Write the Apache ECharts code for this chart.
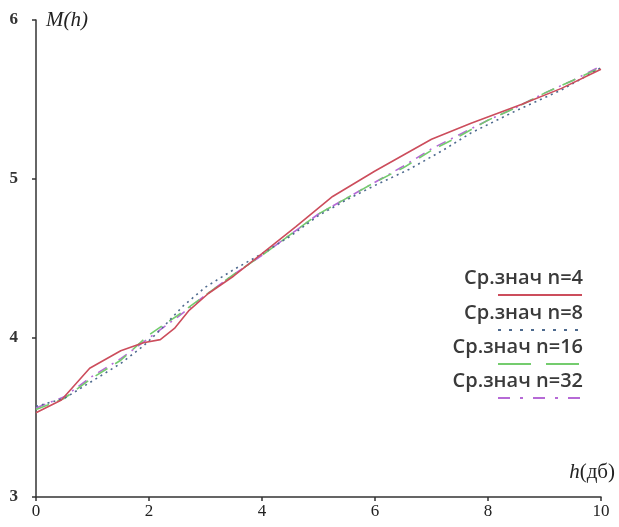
<!DOCTYPE html>
<html>
<head>
<meta charset="utf-8">
<script src="https://cdn.jsdelivr.net/npm/echarts@6/dist/echarts.min.js"></script>
<style>
  html, body { margin: 0; padding: 0; background: #fff; }
  #main { width: 619px; height: 527px; }
</style>
</head>
<body>
<div id="main"></div>
<script>
// 数据: [h, M(h)]
const seriesNames = ["Ср.знач n=4", "Ср.знач n=8", "Ср.знач n=16", "Ср.знач n=32"];
const dataN4 = [[0,3.53],[0.45,3.61],[0.95,3.81],[1.5,3.92],[1.9,3.97],[2.2,3.99],[2.45,4.06],[2.7,4.17],[3.05,4.28],[3.5,4.39],[4,4.53],[4.6,4.70],[5.25,4.89],[6,5.05],[7,5.25],[7.7,5.35],[8.6,5.47],[9.3,5.57],[10,5.69]];
const dataN8 = [[0,3.57],[0.5,3.62],[1,3.73],[1.5,3.84],[1.9,3.95],[2.2,4.05],[2.6,4.20],[3,4.32],[3.5,4.43],[4,4.53],[4.5,4.64],[5,4.77],[5.5,4.87],[6,4.96],[6.6,5.06],[7.2,5.18],[7.7,5.29],[8.5,5.43],[9.3,5.56],[10,5.70]];
const dataN16 = [[0,3.55],[0.5,3.62],[1,3.75],[1.5,3.86],[2,4.02],[2.5,4.14],[3,4.27],[3.5,4.40],[4,4.52],[4.5,4.65],[5,4.78],[5.5,4.88],[6,4.98],[6.5,5.07],[7,5.18],[7.5,5.27],[8,5.37],[8.5,5.45],[9,5.54],[9.5,5.62],[10,5.70]];
const dataN32 = [[0,3.56],[0.5,3.63],[1,3.76],[1.5,3.87],[2,4.00],[2.5,4.13],[3,4.27],[3.5,4.40],[4,4.52],[4.5,4.65],[5,4.78],[5.5,4.88],[6,4.98],[6.5,5.08],[7,5.19],[7.5,5.28],[8,5.37],[8.5,5.45],[9,5.54],[9.5,5.62],[10,5.71]];

const colors = ["#cc4d5c", "#4e6a8e", "#74cc6e", "#b66ad6"];
const lineTypes = ["solid", [2, 4], [14, 9], [10, 6, 2, 6]];
const legendDash = [null, [3, 8], [33, 15], [12, 10, 3, 10]];
const allData = [dataN4, dataN8, dataN16, dataN32];

const chart = echarts.init(document.getElementById("main"));
const axisColor = "#333";
const serif = "'Liberation Serif', 'DejaVu Serif', serif";

// 图例 (文字 + 下方线段)
const legendGraphics = [];
const legendLineY = [295, 330, 364, 398];
seriesNames.forEach((name, i) => {
  legendGraphics.push({
    type: "text",
    right: 36,
    top: legendLineY[i] - 27,
    style: { text: name, font: "600 20px 'Open Sans', sans-serif", fill: "#3a3a3a" }
  });
  legendGraphics.push({
    type: "line",
    shape: { x1: 498, y1: legendLineY[i], x2: 582, y2: legendLineY[i] },
    style: { stroke: colors[i], lineWidth: 2, lineDash: legendDash[i] }
  });
});

const option = {
  animation: false,
  grid: { left: 36, right: 18, top: 20, bottom: 30 },
  xAxis: {
    type: "value",
    min: 0, max: 10, interval: 2,
    name: "{i|h}(дб)",
    nameLocation: "end",
    nameGap: 0,
    nameTextStyle: {
      align: "right", verticalAlign: "bottom", padding: [0, -14, 14, 0],
      fontFamily: serif, fontSize: 21, color: "#222",
      rich: { i: { fontStyle: "italic", fontFamily: serif, fontSize: 21, color: "#222" } }
    },
    axisLine: { lineStyle: { color: axisColor, width: 1.5 } },
    axisTick: { show: true, length: 4, lineStyle: { color: axisColor, width: 1.5 } },
    axisLabel: { fontFamily: serif, fontSize: 17, color: "#222", margin: 6 },
    splitLine: { show: false }
  },
  yAxis: {
    type: "value",
    min: 3, max: 6, interval: 1,
    name: "M(h)",
    nameLocation: "end",
    nameGap: 0,
    nameTextStyle: {
      align: "left", verticalAlign: "middle", padding: [0, 0, 0, 10],
      fontFamily: serif, fontStyle: "italic", fontSize: 21, color: "#222"
    },
    axisLine: { show: true, lineStyle: { color: axisColor, width: 1.5 } },
    axisTick: { show: true, length: 4, lineStyle: { color: axisColor, width: 1.5 } },
    axisLabel: { fontFamily: serif, fontSize: 17, fontWeight: "bold", color: "#333", margin: 18 },
    splitLine: { show: false }
  },
  graphic: legendGraphics,
  series: allData.map((d, i) => ({
    name: seriesNames[i],
    type: "line",
    data: d,
    showSymbol: false,
    smooth: false,
    z: 10 - i,
    lineStyle: { color: colors[i], width: 1.6, type: lineTypes[i] }
  }))
};

chart.setOption(option);
</script>
</body>
</html>
